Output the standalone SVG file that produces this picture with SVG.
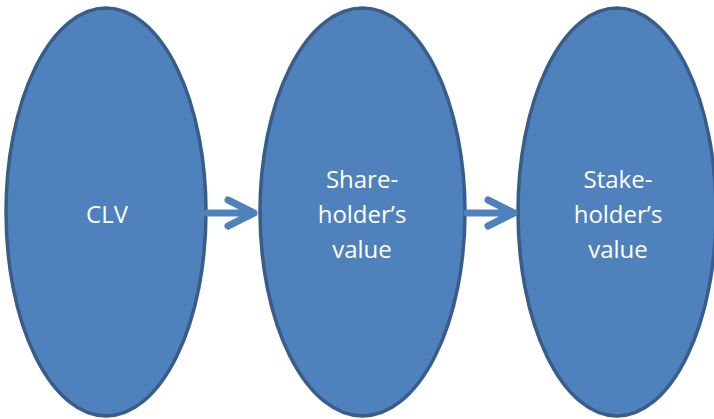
<svg xmlns="http://www.w3.org/2000/svg" width="714" height="419" viewBox="0 0 714 419">
  <style>
    .node ellipse { fill: #4F81BD; stroke: #385D8A; stroke-width: 3.5; }
    .node text { fill: #FFFFFF; font-family: "Open Sans", "Liberation Sans", sans-serif; font-size: 24px; text-anchor: middle; }
    .conn path { fill: none; stroke: #4F81BD; stroke-width: 7; stroke-linecap: round; stroke-linejoin: round; }
  </style>
  <rect width="714" height="419" fill="#FFFFFF"/>
  <g id="clv" class="node">
    <ellipse cx="106" cy="212" rx="100" ry="204"/>
    <text x="107" y="223">CLV</text>
  </g>
  <g id="shareholder" class="node">
    <ellipse cx="362.5" cy="212" rx="102.5" ry="204"/>
    <text x="362" y="188">Share-</text>
    <text x="362" y="223">holder’s</text>
    <text x="362" y="258">value</text>
  </g>
  <g id="stakeholder" class="node">
    <ellipse cx="617" cy="212" rx="99" ry="204"/>
    <text x="618" y="188">Stake-</text>
    <text x="618" y="223">holder’s</text>
    <text x="618" y="258">value</text>
  </g>
  <g id="connectors" class="conn">
    <path d="M207 213 H254 M228 200 L254 213 L228 226"/>
    <path d="M467 213 H514 M488 200 L514 213 L488 226"/>
  </g>
</svg>
